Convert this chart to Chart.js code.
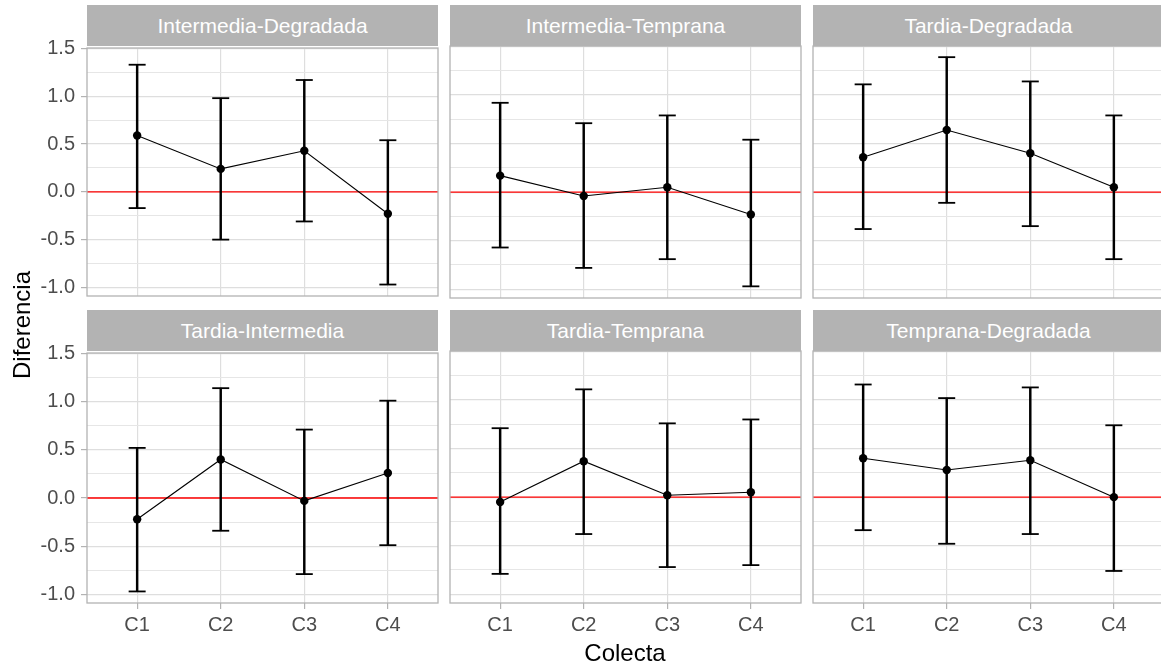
<!DOCTYPE html>
<html>
<head>
<meta charset="utf-8">
<script src="https://cdn.jsdelivr.net/npm/chart.js@4/dist/chart.umd.min.js"></script>
<style>
  html, body { margin: 0; padding: 0; background: #fff; overflow: hidden; }
  body { width: 1161px; height: 667px; position: relative; font-family: "Liberation Sans", Arial, sans-serif; }
  canvas { position: absolute; }
  .strip {
    position: absolute; background: #b3b3b3; color: #fff;
    font-size: 21px; display: flex; align-items: center; justify-content: center;
  }
  .title { position: absolute; color: #000; font-size: 24px; line-height: 24px; white-space: nowrap; text-align: center; }
</style>
</head>
<body>
<script>
// categories (x) and facet names
const categories = ['C1', 'C2', 'C3', 'C4'];
const panelNames = ['Intermedia-Degradada', 'Intermedia-Temprana', 'Tardia-Degradada',
                    'Tardia-Intermedia', 'Tardia-Temprana', 'Temprana-Degradada'];

// mean difference and interval ends, read per panel
const meanIntDeg = [0.59, 0.24, 0.43, -0.23];
const lowIntDeg  = [-0.17, -0.50, -0.31, -0.97];
const highIntDeg = [1.33, 0.98, 1.17, 0.54];

const meanIntTem = [0.17, -0.04, 0.05, -0.23];
const lowIntTem  = [-0.57, -0.78, -0.69, -0.97];
const highIntTem = [0.92, 0.71, 0.79, 0.54];

const meanTarDeg = [0.36, 0.64, 0.40, 0.05];
const lowTarDeg  = [-0.38, -0.11, -0.35, -0.69];
const highTarDeg = [1.11, 1.39, 1.14, 0.79];

const meanTarInt = [-0.22, 0.40, -0.03, 0.26];
const lowTarInt  = [-0.97, -0.34, -0.79, -0.49];
const highTarInt = [0.52, 1.14, 0.71, 1.01];

const meanTarTem = [-0.05, 0.37, 0.02, 0.05];
const lowTarTem  = [-0.79, -0.38, -0.72, -0.70];
const highTarTem = [0.71, 1.11, 0.76, 0.80];

const meanTemDeg = [0.40, 0.28, 0.38, 0.00];
const lowTemDeg  = [-0.34, -0.48, -0.38, -0.76];
const highTemDeg = [1.16, 1.02, 1.13, 0.74];

const refValue = 0;   // red reference line
const yMin = -1.09, yMax = 1.505;
const xMin = 0.4, xMax = 4.6;

const panels = [
    [meanIntDeg, lowIntDeg, highIntDeg],
    [meanIntTem, lowIntTem, highIntTem],
    [meanTarDeg, lowTarDeg, highTarDeg],
    [meanTarInt, lowTarInt, highTarInt],
    [meanTarTem, lowTarTem, highTarTem],
    [meanTemDeg, lowTemDeg, highTemDeg],
];

// layout (page pixels)
const colLeft = [87, 450, 813];
const rowTop = [46, 351];
const panelW = 351, panelH = 252, stripH = 41;
const YAXW = 87, XAXH = 40, PAD = 16;
const FONT = '"Liberation Sans", Arial, sans-serif';

const isMajor = v => Math.abs(v * 2 - Math.round(v * 2)) < 1e-6;

const decor = {
    id: 'decor',
    beforeDatasetsDraw(chart) {
        const a = chart.chartArea, y = chart.scales.y.getPixelForValue(refValue);
        const ctx = chart.ctx;
        ctx.save();
        ctx.strokeStyle = '#ff0000';
        ctx.lineWidth = 1.3;
        ctx.beginPath();
        ctx.moveTo(a.left, y);
        ctx.lineTo(a.right, y);
        ctx.stroke();
        ctx.restore();
    },
    afterDraw(chart) {
        const a = chart.chartArea, ctx = chart.ctx;
        ctx.save();
        ctx.strokeStyle = '#b3b3b3';
        ctx.lineWidth = 1.3;
        ctx.strokeRect(a.left, a.top, a.right - a.left, a.bottom - a.top);
        ctx.restore();
    }
};

panels.forEach(function(p, idx) {
    const r = Math.floor(idx / 3), c = idx % 3;
    const mean = p[0], low = p[1], high = p[2];

    const strip = document.createElement('div');
    strip.className = 'strip';
    strip.style.left = colLeft[c] + 'px';
    strip.style.top = (rowTop[r] - stripH) + 'px';
    strip.style.width = panelW + 'px';
    strip.style.height = stripH + 'px';
    strip.textContent = panelNames[idx];
    document.body.appendChild(strip);

    const extraL = c === 0 ? YAXW : 0;
    const extraB = r === 1 ? XAXH : 0;
    const cv = document.createElement('canvas');
    cv.width = PAD * 2 + extraL + panelW;
    cv.height = PAD * 2 + panelH + extraB;
    cv.style.left = (colLeft[c] - extraL - PAD) + 'px';
    cv.style.top = (rowTop[r] - PAD) + 'px';
    document.body.appendChild(cv);

    new Chart(cv, {
        type: 'line',
        data: {
            datasets: [{
                type: 'line',
                data: mean.map((v, i) => ({x: i + 1, y: v})),
                borderColor: '#000',
                borderWidth: 1.1,
                pointRadius: 4.2,
                pointBackgroundColor: '#000',
                pointBorderWidth: 0,
                order: 0
            }, {
                type: 'bar',
                data: low.map((v, i) => ({x: i + 1, y: [v, high[i]]})),
                backgroundColor: '#000',
                barThickness: 1.8,
                grouped: false,
                order: 1
            }, {
                type: 'scatter',
                data: high.map((v, i) => ({x: i + 1, y: v})),
                pointStyle: 'line',
                pointRadius: 8.5,
                pointBorderColor: '#000',
                pointBorderWidth: 1.8,
                order: 1
            }, {
                type: 'scatter',
                data: low.map((v, i) => ({x: i + 1, y: v})),
                pointStyle: 'line',
                pointRadius: 8.5,
                pointBorderColor: '#000',
                pointBorderWidth: 1.8,
                order: 1
            }]
        },
        options: {
            responsive: false,
            animation: false,
            devicePixelRatio: 1,
            events: [],
            layout: { padding: PAD },
            plugins: { legend: { display: false }, tooltip: { enabled: false } },
            scales: {
                x: {
                    type: 'linear',
                    min: xMin,
                    max: xMax,
                    offset: false,
                    afterFit: s => { s.height = extraB; },
                    border: { display: false },
                    grid: {
                        offset: false,
                        color: '#dedede',
                        lineWidth: 1.2,
                        drawTicks: r === 1,
                        tickLength: 6,
                        tickColor: '#b3b3b3',
                        tickWidth: 1.2
                    },
                    ticks: {
                        display: r === 1,
                        stepSize: 1,
                        maxTicksLimit: 100,
                        includeBounds: false,
                        autoSkip: false,
                        maxRotation: 0,
                        padding: 4,
                        color: '#4d4d4d',
                        font: { family: FONT, size: 20 },
                        callback: v => categories[v - 1] || ''
                    }
                },
                y: {
                    type: 'linear',
                    min: yMin,
                    max: yMax,
                    afterFit: s => { s.width = extraL; },
                    border: { display: false },
                    grid: {
                        color: ctx => isMajor(ctx.tick.value) ? '#dedede' : '#e6e6e6',
                        lineWidth: ctx => isMajor(ctx.tick.value) ? 1.2 : 1,
                        drawTicks: c === 0,
                        tickLength: 6,
                        tickColor: ctx => isMajor(ctx.tick.value) ? '#b3b3b3' : 'rgba(0,0,0,0)',
                        tickWidth: 1.2
                    },
                    ticks: {
                        display: c === 0,
                        stepSize: 0.25,
                        maxTicksLimit: 100,
                        includeBounds: false,
                        autoSkip: false,
                        padding: 6,
                        color: '#4d4d4d',
                        font: { family: FONT, size: 20 },
                        callback: v => isMajor(v) ? v.toFixed(1) : ''
                    }
                }
            }
        },
        plugins: [decor]
    });
});

// axis titles
const xt = document.createElement('div');
xt.className = 'title';
xt.textContent = 'Colecta';
xt.style.left = '525px';
xt.style.width = '200px';
xt.style.top = '641px';
document.body.appendChild(xt);

const yt = document.createElement('div');
yt.className = 'title';
yt.textContent = 'Diferencia';
yt.style.left = (22 - 100) + 'px';
yt.style.width = '200px';
yt.style.top = (325 - 12) + 'px';
yt.style.transform = 'rotate(-90deg)';
document.body.appendChild(yt);
</script>
</body>
</html>
